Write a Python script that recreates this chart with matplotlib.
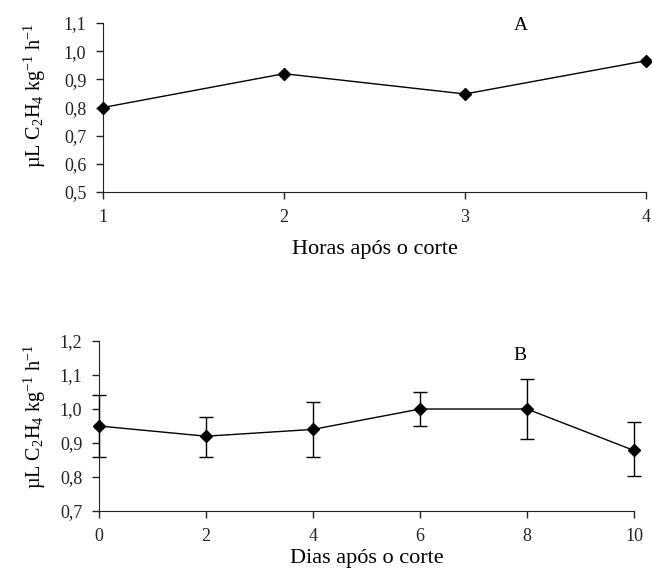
import numpy as np
import matplotlib
matplotlib.use("Agg")
from matplotlib import pyplot as plt

plt.rcParams['font.family'] = ['Liberation Serif', 'DejaVu Serif']
plt.rcParams['mathtext.fontset'] = 'custom'
plt.rcParams['mathtext.rm'] = 'Liberation Serif'
plt.rcParams['mathtext.default'] = 'regular'

# painel A - horas apos o corte
horas = [1, 2, 3, 4]
etileno_h = [0.80, 0.92, 0.848, 0.966]

# painel B - dias apos o corte
dias = [0, 2, 4, 6, 8, 10]
etileno_d = [0.95, 0.92, 0.94, 1.00, 1.00, 0.878]
erro_sup = [1.04, 0.976, 1.02, 1.051, 1.089, 0.961]
erro_inf = [0.86, 0.86, 0.86, 0.95, 0.913, 0.802]

ylab = u'\u00b5L C$_2$H$_4$ kg$^{-1}$ h$^{-1}$'

def virgula(v, pos):
    return ("%.1f" % v).replace('.', ',')

fig = plt.figure(figsize=(6.52, 5.72), dpi=100)
W, H = 652.0, 572.0

# top panel
ax1 = fig.add_axes([103/W, 1-192/H, (646-103)/W, (192-23)/H])
ax1.plot(horas, etileno_h, color="black", lw=1, marker="D", ms=6, zorder=3, clip_on=False)
ax1.set_xlim(1, 4)
ax1.set_ylim(0.5, 1.1)
ax1.set_xticks(horas)
ax1.set_yticks(np.arange(0.5, 1.11, 0.1))
ax1.yaxis.set_major_formatter(plt.FuncFormatter(virgula))
ax1.set_xlabel("Horas após o corte", fontsize=16, labelpad=10)
ax1.set_ylabel(ylab, fontsize=14.5)
ax1.yaxis.set_label_coords(-0.101, 0.57)
fig.text(521/W, 1-26/H, "A", fontsize=14, ha="center", va="center")

# bottom panel
ax2 = fig.add_axes([99/W, 1-511/H, (634-99)/W, (511-341)/H])
yerr = [np.array(etileno_d) - np.array(erro_inf), np.array(erro_sup) - np.array(etileno_d)]
ax2.errorbar(dias, etileno_d, yerr=yerr, color="black", lw=1, marker="D", ms=6,
             capsize=5, elinewidth=1, capthick=1, zorder=3, clip_on=False)
ax2.set_xlim(0, 10)
ax2.set_ylim(0.7, 1.2)
ax2.set_xticks(dias)
ax2.set_yticks(np.arange(0.7, 1.21, 0.1))
ax2.yaxis.set_major_formatter(plt.FuncFormatter(virgula))
ax2.set_xlabel("Dias após o corte", fontsize=16, labelpad=3)
ax2.set_ylabel(ylab, fontsize=14.5)
ax2.yaxis.set_label_coords(-0.096, 0.555)
fig.text(520/W, 1-356/H, "B", fontsize=14, ha="center", va="center")

for ax in (ax1, ax2):
    ax.spines['top'].set_visible(False)
    ax.spines['right'].set_visible(False)
    ax.spines['left'].set_color('#222222')
    ax.spines['bottom'].set_color('#222222')
    ax.tick_params(direction="out", length=5, width=1, labelsize=13, pad=7, colors='#222222')

fig.savefig("out.png", dpi=100)
